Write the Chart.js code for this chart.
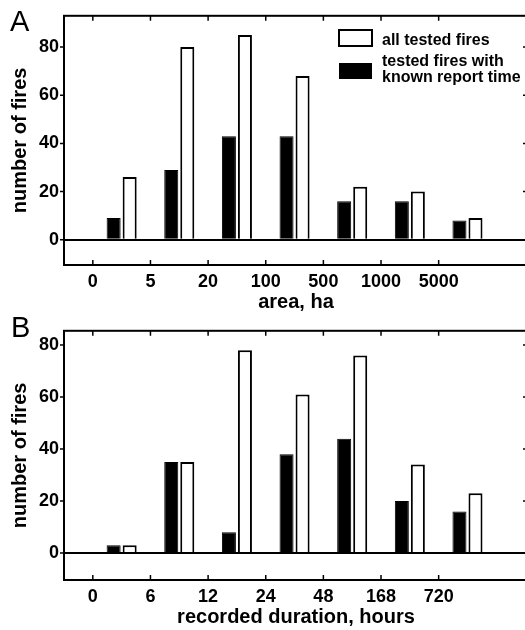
<!DOCTYPE html>
<html>
<head>
<meta charset="utf-8">
<script src="https://cdn.jsdelivr.net/npm/chart.js@4"></script>
<style>
  html, body { margin: 0; padding: 0; background: #fff; overflow: hidden; }
  .panel { position: relative; width: 528px; height: 315px; }
</style>
</head>
<body>
<div class="panel"><canvas id="chartA"></canvas></div>
<div class="panel"><canvas id="chartB"></canvas></div>
<script>
// panel A: burned area bins
const areaLabels = ['0', '5', '20', '100', '500', '1000', '5000'];
const areaAll = [26, 80, 85, 68, 22, 20, 9];
const areaKnown = [9, 29, 43, 43, 16, 16, 8];
const areaRange = [-10.5, 93];

// panel B: recorded duration bins
const durLabels = ['0', '6', '12', '24', '48', '168', '720'];
const durAll = [3, 35, 78, 61, 76, 34, 23];
const durKnown = [3, 35, 8, 38, 44, 20, 16];
const durRange = [-10.4, 85.5];

const yTicks = [0, 20, 40, 60, 80];

Chart.defaults.font.family = '"Liberation Sans", Arial, Helvetica, sans-serif';
Chart.defaults.color = '#000';

// bars sit between the tick labels, so x is the bin index + 0.5
const toPoints = vals => vals.map((v, i) => ({ x: i + 0.5, y: v }));

// box around the axes, inward ticks top/bottom/right, outward ticks on the left
const framePlugin = {
  id: 'frame',
  afterDatasetsDraw(chart) {
    const { ctx, chartArea: a, scales: { x, y } } = chart;
    ctx.save();
    ctx.strokeStyle = '#000';
    ctx.lineWidth = 2;
    ctx.strokeRect(a.left, a.top, a.right - a.left, a.bottom - a.top);
    ctx.beginPath();
    x.ticks.forEach(t => {
      const px = x.getPixelForValue(t.value);
      ctx.moveTo(px, a.top); ctx.lineTo(px, a.top + 5);
      ctx.moveTo(px, a.bottom); ctx.lineTo(px, a.bottom - 5);
    });
    y.ticks.forEach(t => {
      const py = y.getPixelForValue(t.value);
      ctx.moveTo(a.left - 4, py); ctx.lineTo(a.left, py);
      ctx.moveTo(a.right, py); ctx.lineTo(a.right - 5, py);
    });
    ctx.lineWidth = 1.5;
    ctx.stroke();
    ctx.restore();
  }
};

// panel letter + the hand placed legend of panel A
const annotatePlugin = {
  id: 'annotate',
  afterDraw(chart, args, opts) {
    const ctx = chart.ctx;
    ctx.save();
    ctx.fillStyle = '#000';
    ctx.textBaseline = 'alphabetic';
    ctx.font = '29px "Liberation Sans", Arial, sans-serif';
    ctx.fillText(opts.letter, opts.letterX, opts.letterY);
    if (opts.legend) {
      ctx.strokeStyle = '#000';
      ctx.lineWidth = 2;
      ctx.fillStyle = '#fff';
      ctx.fillRect(339, 30, 33, 16);
      ctx.strokeRect(339, 30, 33, 16);
      ctx.fillStyle = '#000';
      ctx.fillRect(339, 63, 33, 16);
      ctx.font = 'bold 16px "Liberation Sans", Arial, sans-serif';
      ctx.fillText('all tested fires', 382, 45);
      ctx.fillText('tested fires with', 382, 66);
      ctx.fillText('known report time', 382, 82);
    }
    ctx.restore();
  }
};

function makeChart(id, labels, known, all, range, xTitle, annot) {
  const ctx = document.getElementById(id).getContext('2d');
  return new Chart(ctx, {
    type: 'bar',
    data: {
      datasets: [
        {
          label: 'tested fires with known report time',
          data: toPoints(known),
          backgroundColor: '#000',
          borderColor: '#000',
          borderWidth: 1,
        },
        {
          label: 'all tested fires',
          data: toPoints(all),
          backgroundColor: '#fff',
          borderColor: '#000',
          borderWidth: 2,
        },
      ],
    },
    options: {
      responsive: true,
      maintainAspectRatio: false,
      animation: false,
      categoryPercentage: 0.556,
      barPercentage: 0.875,
      layout: { padding: { top: 12, right: 0, bottom: 0, left: 0 } },
      plugins: {
        legend: { display: false },
        tooltip: { enabled: false },
        annotate: annot,
      },
      scales: {
        x: {
          type: 'linear',
          offset: false,
          min: -0.5,
          max: 7.55,
          afterBuildTicks: s => { s.ticks = labels.map((_, i) => ({ value: i })); },
          afterFit: s => { s.height = 50; },
          grid: { display: false, drawTicks: false, offset: false },
          border: { display: false },
          ticks: {
            padding: 6,
            autoSkip: false,
            maxRotation: 0,
            font: { size: 18, weight: 'bold' },
            callback: v => labels[v],
          },
          title: {
            display: true,
            text: xTitle,
            font: { size: 20, weight: 'bold' },
            padding: { top: 0, bottom: 1 },
          },
        },
        y: {
          min: range[0],
          max: range[1],
          afterBuildTicks: s => { s.ticks = yTicks.map(v => ({ value: v })); },
          afterFit: s => { s.width = 64; },
          grid: {
            drawTicks: false,
            lineWidth: 2,
            color: c => (c.tick && c.tick.value === 0 ? '#000' : 'rgba(0,0,0,0)'),
          },
          border: { display: false },
          ticks: {
            padding: 5,
            font: { size: 18, weight: 'bold' },
          },
          title: {
            display: true,
            text: 'number of fires',
            font: { size: 20, weight: 'bold' },
            padding: { top: 8, bottom: 0 },
          },
        },
      },
    },
    plugins: [framePlugin, annotatePlugin],
  });
}

makeChart('chartA', areaLabels, areaKnown, areaAll, areaRange, 'area, ha',
  { letter: 'A', letterX: 10, letterY: 31, legend: true });
makeChart('chartB', durLabels, durKnown, durAll, durRange, 'recorded duration, hours',
  { letter: 'B', letterX: 11, letterY: 22, legend: false });
</script>
</body>
</html>
